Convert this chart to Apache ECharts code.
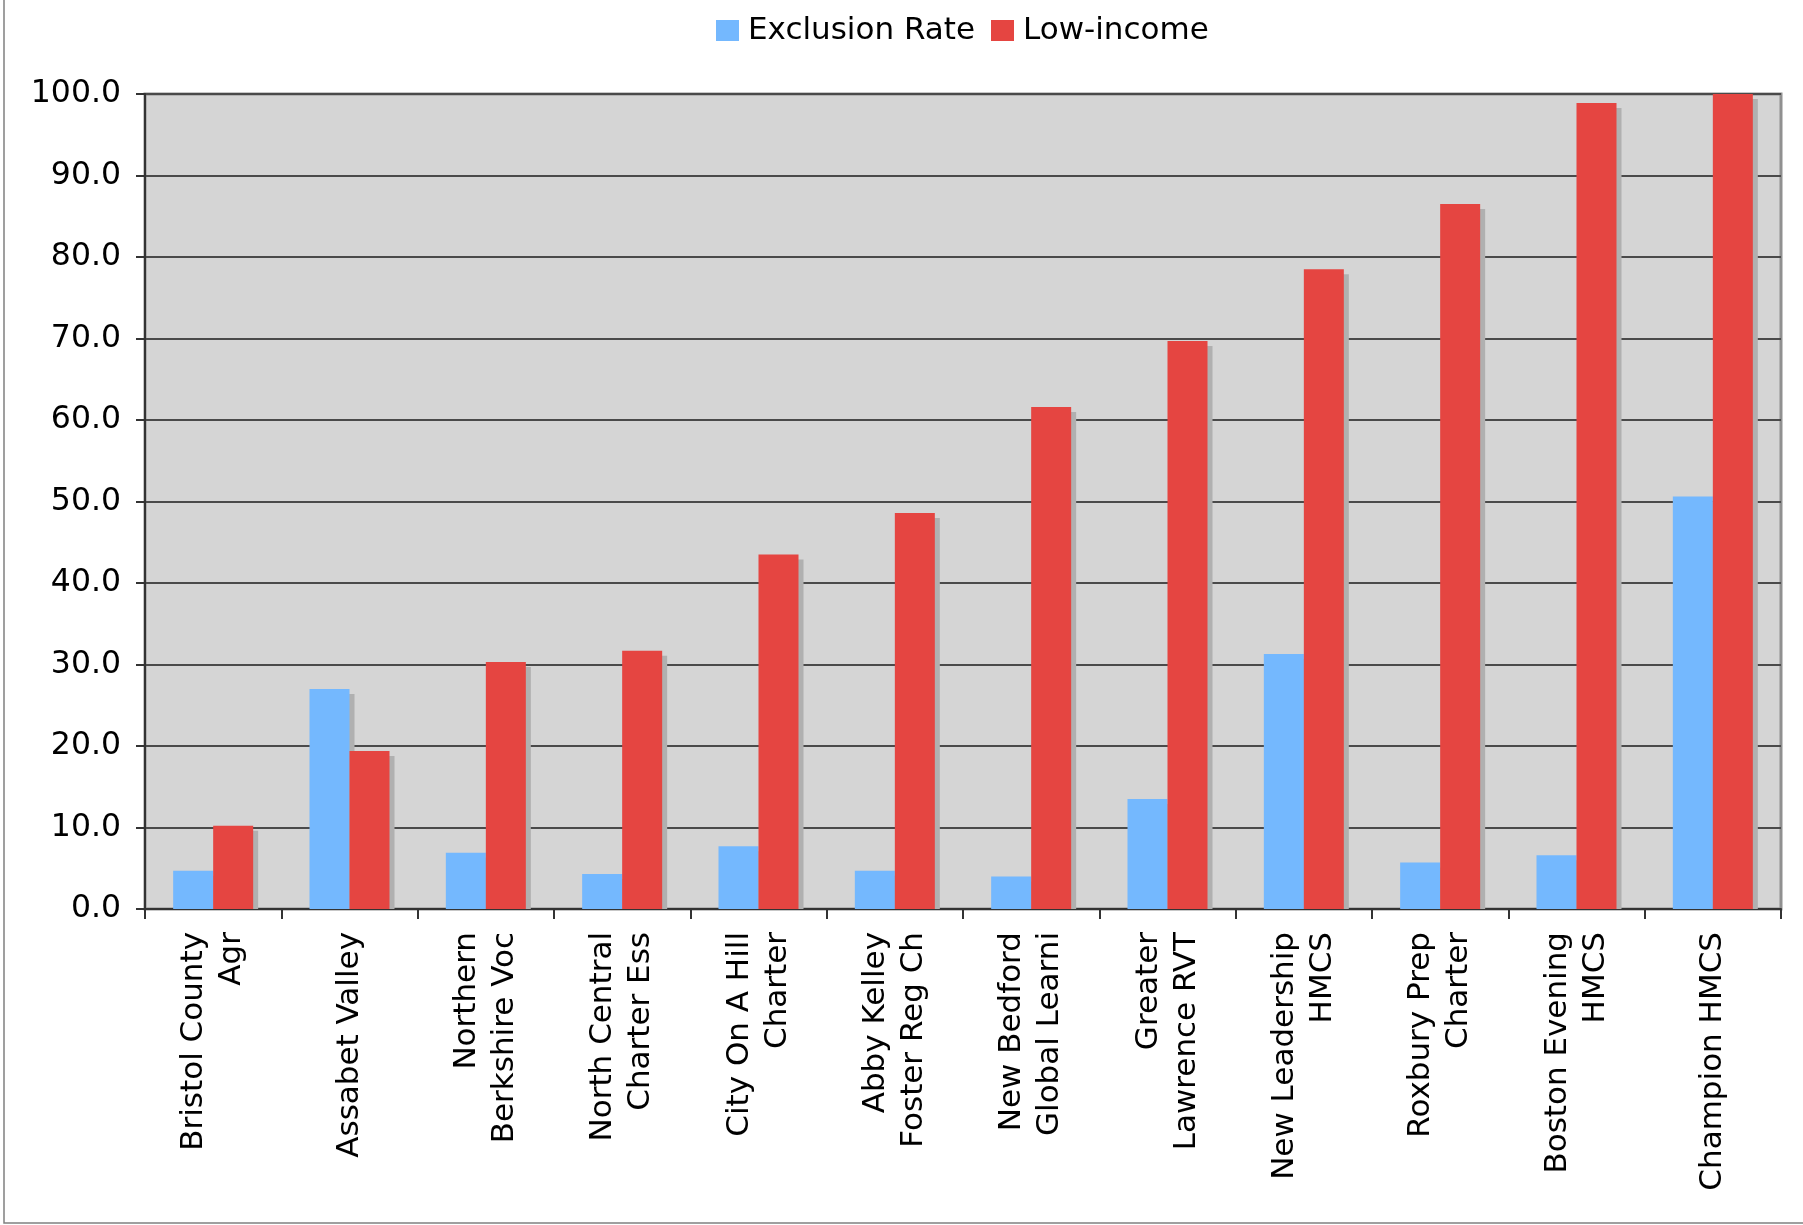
<!DOCTYPE html>
<html>
<head>
<meta charset="utf-8">
<script src="https://cdn.jsdelivr.net/npm/echarts@6/dist/echarts.min.js"></script>
<style>
html,body{margin:0;padding:0;background:#fff;}
#chart{width:1803px;height:1225px;}
</style>
</head>
<body>
<div id="chart"></div>
<script>
const categories = [
  "Bristol County\nAgr", "Assabet Valley", "Northern\nBerkshire Voc", "North Central\nCharter Ess",
  "City On A Hill\nCharter", "Abby Kelley\nFoster Reg Ch", "New Bedford\nGlobal Learni", "Greater\nLawrence RVT",
  "New Leadership\nHMCS", "Roxbury Prep\nCharter", "Boston Evening\nHMCS", "Champion HMCS"
];
const exclusionRate = [4.7, 27.0, 6.9, 4.3, 7.7, 4.7, 4.0, 13.5, 31.3, 5.7, 6.6, 50.6];
const lowIncome = [10.2, 19.4, 30.3, 31.7, 43.5, 48.6, 61.6, 69.7, 78.5, 86.5, 98.9, 100.0];
const seriesNames = ["Exclusion Rate", "Low-income"];
const yTicks = { min: 0, max: 100, interval: 10 };

const BAR_W = 40, SH = 5;
const FONT = "DejaVu Sans, Verdana, sans-serif";

function shadowRender(offsetIdx) {
  return function (params, api) {
    const cat = api.value(0), v = api.value(1);
    const top = api.coord([cat, v]);
    const base = api.coord([cat, 0]);
    const x0 = top[0] + (offsetIdx === 0 ? -BAR_W : 0) + SH;
    const y0 = top[1] + SH;
    const h = base[1] - y0;
    if (h <= 0) return null;
    return { type: 'rect', shape: { x: x0, y: y0, width: BAR_W, height: h }, style: { fill: '#b0b0b0' } };
  };
}

const chart = echarts.init(document.getElementById('chart'), null, { renderer: 'canvas' });
chart.setOption({
  animation: false,
  backgroundColor: '#ffffff',
  graphic: [{
    type: 'rect', z: 0, silent: true,
    shape: { x: 4, y: -5, width: 1810, height: 1228 },
    style: { fill: 'none', stroke: '#808080', lineWidth: 1.5 }
  }],
  legend: {
    top: 10, left: 711,
    data: seriesNames,
    icon: 'rect', itemWidth: 23, itemHeight: 21, itemGap: 16,
    textStyle: { fontFamily: FONT, fontSize: 31, color: '#000', padding: [0, 0, 0, 4] }
  },
  grid: {
    left: 145, top: 94, right: 22, bottom: 316,
    show: true, backgroundColor: '#d5d5d5', borderColor: '#909090', borderWidth: 3
  },
  xAxis: {
    type: 'category', data: categories,
    axisLine: { lineStyle: { color: '#333', width: 2 } },
    axisTick: { show: true, length: 10, lineStyle: { color: '#333', width: 2 } },
    axisLabel: {
      rotate: 90, interval: 0, margin: 23,
      fontFamily: FONT, fontSize: 31, color: '#000', lineHeight: 38
    },
    splitLine: { show: false }
  },
  yAxis: {
    type: 'value', min: yTicks.min, max: yTicks.max, interval: yTicks.interval,
    axisLine: { show: true, lineStyle: { color: '#333', width: 2 } },
    axisTick: { show: true, length: 9, lineStyle: { color: '#333', width: 2 } },
    axisLabel: {
      margin: 24, fontFamily: FONT, fontSize: 31.5, color: '#000',
      formatter: v => v.toFixed(1)
    },
    splitLine: { show: true, lineStyle: { color: '#4a4a4a', width: 2 } }
  },
  series: [
    {
      type: 'custom', name: 'shadowA', z: 1, silent: true,
      renderItem: shadowRender(0),
      data: exclusionRate.map((v, i) => [i, v]),
      encode: { x: 0, y: 1 }, clip: true, legendHoverLink: false
    },
    {
      type: 'custom', name: 'shadowB', z: 1, silent: true,
      renderItem: shadowRender(1),
      data: lowIncome.map((v, i) => [i, v]),
      encode: { x: 0, y: 1 }, clip: true, legendHoverLink: false
    },
    {
      name: seriesNames[0], type: 'bar', z: 2, data: exclusionRate,
      barWidth: BAR_W, barGap: '0%',
      itemStyle: { color: '#74B8FE' }
    },
    {
      name: seriesNames[1], type: 'bar', z: 2, data: lowIncome,
      barWidth: BAR_W, barGap: '0%',
      itemStyle: { color: '#E54541' }
    }
  ]
});
</script>
</body>
</html>
